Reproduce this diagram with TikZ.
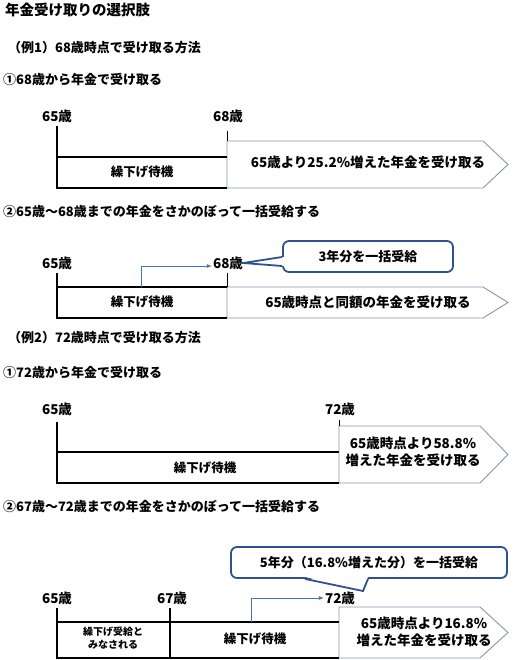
\documentclass[tikz,border=0pt]{standalone}
\usepackage{fontspec}
\setmainfont{Noto Sans CJK JP}
\usetikzlibrary{positioning, calc, arrows.meta}
\definecolor{jpEdge}{HTML}{8497B0}
\definecolor{jpNote}{HTML}{2F528F}
\definecolor{jpHop}{HTML}{4472C4}
\definecolor{jpText}{HTML}{000000}

\tikzset{
	head/.style={anchor=west, inner sep=0pt, text=jpText,
		font=\bfseries\fontsize{13}{15}\selectfont},
	age/.style={inner sep=1pt, font=\bfseries\fontsize{13.5}{15}\selectfont},
	waitlbl/.style={inner sep=0pt, align=center, font=\bfseries\fontsize{12.5}{15}\selectfont},
	smalllbl/.style={inner sep=0pt, align=center, font=\bfseries\fontsize{10}{13}\selectfont},
	recvtxt/.style={inner sep=0pt, align=center, font=\bfseries\fontsize{13.5}{17}\selectfont},
	tline/.style={black, line width=1.6pt},
	tick/.style={black, line width=0.8pt},
	recv/.style={draw=jpEdge, fill=white, line width=0.9pt, line join=miter},
	note/.style={draw=jpNote, fill=white, line width=1.8pt, rounded corners=6pt,
		font=\bfseries\fontsize{13}{15}\selectfont, inner sep=0pt},
	notetip/.style={draw=jpNote, line width=1.8pt, line join=miter},
	hop/.style={draw=jpHop, line width=0.7pt, -{Latex[length=5pt, width=4pt]}}
}

\begin{document}
\begin{tikzpicture}[x=1pt, y=-1pt]
	\useasboundingbox (0,0) rectangle (518,660);

	\node[head, font=\bfseries\fontsize{14.5}{16}\selectfont] (title) at (5,10) {年金受け取りの選択肢};
	\node[head] (ex1) at (8,48) {（例1）68歳時点で受け取る方法};
	\node[head] (ex1a) at (3,80) {①68歳から年金で受け取る};

	% case 1-1
	\node[age] (a65a) at (57,116) {65歳};
	\node[age] (a68a) at (228,116) {68歳};
	\draw[recv] (227,141) -- (483,141) -- (508,164.5) -- (483,188) -- (227,188) -- cycle;
	\draw[tline] (57,126) -- (57,188) -- (227,188);
	\draw[tline] (57,157) -- (227,157);
	\draw[tick] (227,131) -- (227,141);
	\node[waitlbl] (w1) at (142,172) {繰下げ待機};
	\node[recvtxt] (r1) at (368,162) {65歳より25.2\%増えた年金を受け取る};

	% case 1-2
	\node[head] (ex1b) at (3,212) {②65歳～68歳までの年金をさかのぼって一括受給する};
	\node[age] (a65b) at (57,263) {65歳};
	\node[age] (a68b) at (228,263) {68歳};
	\draw[recv] (227,287) -- (483,287) -- (508,302.5) -- (483,318) -- (227,318) -- cycle;
	\draw[tline] (57,273) -- (57,318) -- (227,318);
	\draw[tline] (57,287) -- (227,287);
	\draw[tick] (227,273) -- (227,287);
	\node[waitlbl] (w2) at (142,302) {繰下げ待機};
	\node[recvtxt] (r2) at (368,302) {65歳時点と同額の年金を受け取る};
	\coordinate (s2) at (141,287);
	\draw[hop] (s2) |- ([yshift=-3pt]a68b.west);
	\node[note, minimum width=170pt, minimum height=31pt] (n1) at (368,256.5) {3年分を一括受給};
	\fill[white] ([xshift=2pt, yshift=-0.5pt]n1.west) -- ([xshift=-1pt]a68b.east) -- ([xshift=2pt, yshift=-9.5pt]n1.west) -- cycle;
	\draw[notetip] ([yshift=-0.5pt]n1.west) -- ([xshift=-1pt]a68b.east) -- ([yshift=-9.5pt]n1.west);

	% case 2-1
	\node[head] (ex2) at (8,338) {（例2）72歳時点で受け取る方法};
	\node[head] (ex2a) at (3,373) {①72歳から年金で受け取る};
	\node[age] (a65c) at (57,409) {65歳};
	\node[age] (a72c) at (340,409) {72歳};
	\draw[recv] (339,426) -- (480,426) -- (508,454.5) -- (480,483) -- (339,483) -- cycle;
	\draw[tline] (57,422) -- (57,483) -- (339,483);
	\draw[tline] (57,452) -- (339,452);
	\draw[tick] (339,420) -- (339,426);
	\node[waitlbl] (w3) at (205,468) {繰下げ待機};
	\node[recvtxt] (r3) at (413,452) {65歳時点より58.8\%\\増えた年金を受け取る};

	% case 2-2
	\node[head] (ex2b) at (3,507) {②67歳～72歳までの年金をさかのぼって一括受給する};
	\node[age] (a65d) at (57,598) {65歳};
	\node[age] (a67d) at (172,598) {67歳};
	\node[age] (a72d) at (340,598) {72歳};
	\draw[recv] (339,607) -- (480,607) -- (508,632.5) -- (480,658) -- (339,658) -- cycle;
	\draw[tline] (57,608) -- (57,658) -- (339,658);
	\draw[tline] (57,622) -- (339,622);
	\draw[tline] (170,608) -- (170,658);
	\node[smalllbl] (d4) at (113,638.5) {繰下げ受給と\\みなされる};
	\node[waitlbl] (w4) at (255,639) {繰下げ待機};
	\node[recvtxt] (r4) at (424,632) {65歳時点より16.8\%\\増えた年金を受け取る};
	\coordinate (s4) at (251,622);
	\draw[hop] (s4) |- (a72d.west);
	\node[note, minimum width=276pt, minimum height=31pt] (n2) at (369,562.5) {5年分（16.8\%増えた分）を一括受給};
	\coordinate (tip2) at (363,591);
	\fill[white] ([xshift=-64pt, yshift=2pt]n2.south) -- (tip2) -- ([xshift=-1pt, yshift=2pt]n2.south) -- cycle;
	\draw[notetip] ([xshift=-64pt]n2.south) -- (tip2) -- ([xshift=-1pt]n2.south);
\end{tikzpicture}
\end{document}
